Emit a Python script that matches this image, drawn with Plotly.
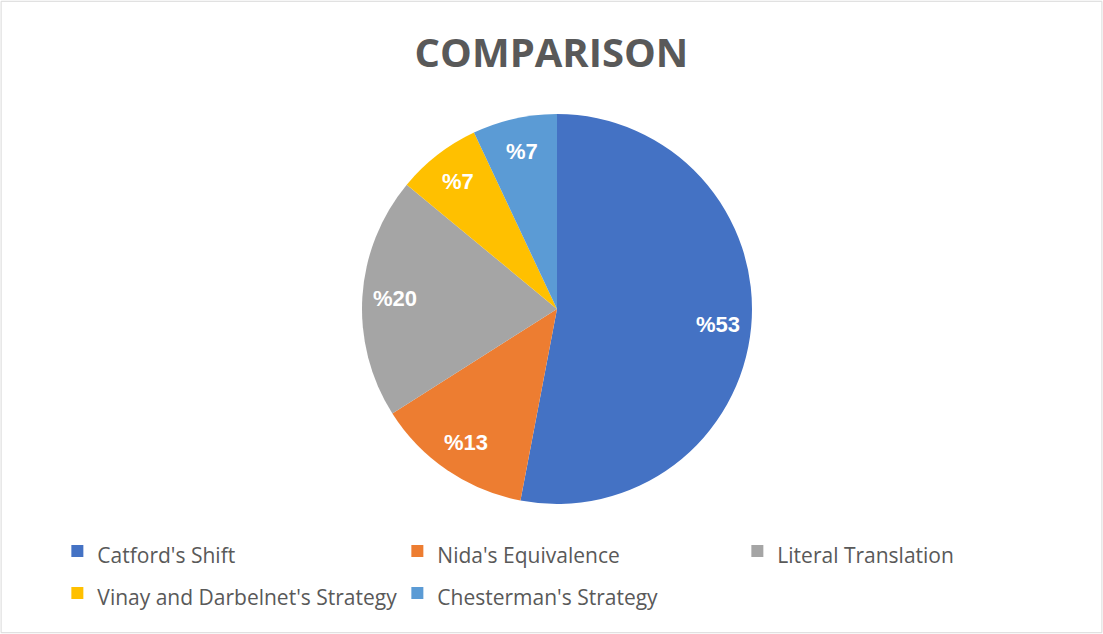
import math
import plotly.graph_objects as go

categories = ["Catford's Shift", "Nida's Equivalence", "Literal Translation",
              "Vinay and Darbelnet's Strategy", "Chesterman's Strategy"]
values = [53, 13, 20, 7, 7]
colors = ["#4472C4", "#ED7D31", "#A5A5A5", "#FFC000", "#5B9BD5"]

W, H = 1103, 634
cx, cy, R = 557, 309, 195
label_r = 0.83

legend_labels = [f"<span style='font-size:21px'>{c}</span>" for c in categories]

fig = go.Figure(go.Pie(
    labels=legend_labels,
    values=values,
    sort=False,
    direction="clockwise",
    rotation=0,
    marker=dict(colors=colors, line=dict(color="white", width=0)),
    textinfo="none",
    hovertemplate="%{label}: %{value}<extra></extra>",
    domain=dict(x=[(cx - R) / W, (cx + R) / W], y=[1 - (cy + R) / H, 1 - (cy - R) / H]),
))

# data labels placed along each slice's bisector (clockwise from 12 o'clock)
total = sum(values)
annotations = []
cum = 0
for v in values:
    mid = (cum + v / 2) / total * 2 * math.pi
    cum += v
    px = cx + label_r * R * math.sin(mid)
    py = cy - label_r * R * math.cos(mid)
    annotations.append(dict(
        x=px / W, y=1 - py / H, xref="paper", yref="paper",
        text=f"<b>%{v}</b>", showarrow=False, xanchor="center", yanchor="middle",
        font=dict(family="Liberation Sans", size=22, color="white"),
    ))

fig.update_layout(
    width=W, height=H,
    margin=dict(l=0, r=0, t=0, b=0),
    paper_bgcolor="white",
    title=dict(text="<b>COMPARISON</b>", x=0.5, xanchor="center", y=1 - 53 / H, yanchor="middle",
               font=dict(family="Open Sans", size=40, color="#595959")),
    legend=dict(orientation="h", x=0.052, xanchor="left", y=1 - 525 / H, yanchor="top",
                entrywidth=295, entrywidthmode="pixels",
                font=dict(family="Open Sans", size=30, color="#595959"),
                traceorder="normal"),
    annotations=annotations,
    shapes=[dict(type="rect", xref="paper", yref="paper", x0=0.001, y0=0.002, x1=0.999, y1=0.998,
                 line=dict(color="#D9D9D9", width=1))],
)

fig.write_html("out.html")
